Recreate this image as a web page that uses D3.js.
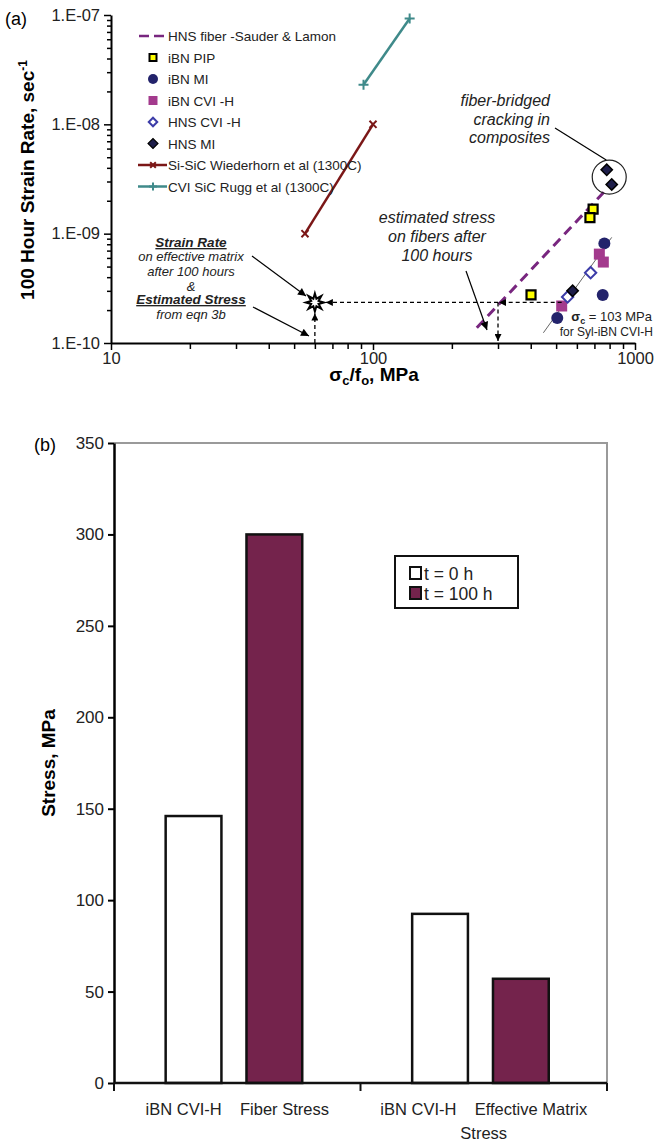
<!DOCTYPE html>
<html><head><meta charset="utf-8">
<script src="https://cdn.jsdelivr.net/npm/d3@7"></script>
<style>
body{margin:0;background:#fff;}
svg{display:block;font-family:Arial,"Liberation Sans",sans-serif;}
</style></head><body>
<svg id="fig" width="671" height="1144"></svg>
<script>
// ---------- Panel (a): 100 h strain rate vs. sigma_c / f_o ----------
const hnsFiber        = [[249, 1.38e-10], [760, 2.39e-9]];
const ibnPip          = [[401, 2.75e-10], [692, 1.68e-9], [673, 1.40e-9]];
const ibnMi           = [[764, 8.15e-10], [753, 2.75e-10], [505, 1.69e-10]];
const ibnCviH         = [[731, 6.5e-10], [757, 5.5e-10], [525, 2.18e-10]];
const hnsCviH         = [[677, 4.4e-10], [553, 2.64e-10]];
const hnsMi           = [[578, 3.0e-10], [780, 3.84e-9], [815, 2.82e-9]];
const siSicWiederhorn = [[55, 1e-9], [100, 1e-8]];
const cviSicRugg      = [[92, 2.3e-8], [138, 9.3e-8]];
const sylIbnTrend     = [[447, 1.24e-10], [815, 9.25e-10]];
const matrixPoint     = [60, 2.35e-10];   // effective matrix after 100 h
const fiberPoint      = [300, 2.35e-10];  // estimated fiber stress after 100 h
const measuredStress  = 525;              // sigma_c/f_o of Syl-iBN CVI-H
const xMajorA = [10, 100, 1000];
const yMajorA = [1e-10, 1e-9, 1e-8, 1e-7];
const legendA = ["HNS fiber -Sauder & Lamon", "iBN PIP", "iBN MI", "iBN CVI -H",
                 "HNS CVI -H", "HNS MI", "Si-SiC Wiederhorn et al (1300C)", "CVI SiC Rugg et al (1300C)"];

// ---------- Panel (b): stresses at t = 0 h and t = 100 h ----------
const categories    = ["iBN CVI-H Fiber Stress", "iBN CVI-H Effective Matrix Stress"];
const categoryLines = [["iBN CVI-H\u00a0\u00a0\u00a0\u00a0Fiber Stress"], ["iBN CVI-H\u00a0\u00a0\u00a0\u00a0Effective Matrix", "Stress"]];
const seriesNames   = ["t = 0 h", "t = 100 h"];
const stressT0      = [146, 92.5];
const stressT100    = [300, 57];
const yTicksB       = [0, 50, 100, 150, 200, 250, 300, 350];

const C = {
  fiber: "#78267f", pip: "#ffff00", mi: "#23236b", cvi: "#a33a8d",
  hnsCvi: "#3c3ca8", hnsMi: "#1e1e4a", wied: "#7b1717", rugg: "#3f8a8a", bar: "#74234c"
};

const svg = d3.select("#fig");
svg.append("rect").attr("width", 671).attr("height", 1144).attr("fill", "#fff");
const defs = svg.append("defs");
function addArrow(id, w, h) {
  defs.append("marker").attr("id", id).attr("viewBox", "0 0 10 10")
    .attr("refX", 10).attr("refY", 5).attr("markerWidth", w).attr("markerHeight", h)
    .attr("markerUnits", "userSpaceOnUse").attr("orient", "auto")
    .append("path").attr("d", "M0,0L10,5L0,10Z").attr("fill", "#000");
}
addArrow("arrowSolid", 10, 8);
addArrow("arrowDash", 8, 7);

// ================= Panel (a) =================
const x = d3.scaleLog().domain([10, 1000]).range([111, 635]);
const y = d3.scaleLog().domain([1e-10, 1e-7]).range([343, 15]);
const ga = svg.append("g");
const isMajor = v => Math.abs(Math.log10(v) - Math.round(Math.log10(v))) < 1e-6;
const fmtE = d => "1.E-" + String(-Math.round(Math.log10(d))).padStart(2, "0");

// axes: minor ticks first, then majors with labels
ga.append("g").attr("transform", "translate(111,0)")
  .call(d3.axisLeft(y).tickValues(y.ticks().filter(v => !isMajor(v))).tickSize(4).tickSizeOuter(0).tickFormat(""))
  .call(g => g.select(".domain").remove());
ga.append("g").attr("transform", "translate(0,343)")
  .call(d3.axisBottom(x).tickValues(x.ticks().filter(v => !isMajor(v))).tickSize(6).tickSizeOuter(0).tickFormat(""))
  .call(g => g.select(".domain").remove());
const yAxA = ga.append("g").attr("transform", "translate(111,0)")
  .call(d3.axisLeft(y).tickValues(yMajorA).tickSize(7).tickSizeOuter(0).tickPadding(4).tickFormat(fmtE));
const xAxA = ga.append("g").attr("transform", "translate(0,343)")
  .call(d3.axisBottom(x).tickValues(xMajorA).tickSize(7).tickSizeOuter(0).tickPadding(2).tickFormat(d3.format("d")));
[yAxA, xAxA].forEach(g => {
  g.select(".domain").attr("stroke-width", 2);
  g.selectAll("text").attr("font-size", 16.5).attr("fill", "#222").attr("font-family", "Arial, Liberation Sans, sans-serif");
});
ga.selectAll(".tick line").attr("stroke-width", 1.5);

// axis titles
ga.append("text").attr("x", 5).attr("y", 25).attr("font-size", 18).text("(a)");
const yTitleA = ga.append("text").attr("transform", "translate(34,180) rotate(-90)")
  .attr("text-anchor", "middle").attr("font-size", 19).attr("font-weight", "bold");
yTitleA.append("tspan").text("100 Hour Strain Rate, sec");
yTitleA.append("tspan").attr("dy", -7).attr("font-size", 12).text("-1");
const xTitleA = ga.append("text").attr("x", 374).attr("y", 381)
  .attr("text-anchor", "middle").attr("font-size", 19).attr("font-weight", "bold");
xTitleA.append("tspan").text("σ");
xTitleA.append("tspan").attr("dy", 4).attr("font-size", 13).text("c");
xTitleA.append("tspan").attr("dy", -4).text("/f");
xTitleA.append("tspan").attr("dy", 4).attr("font-size", 13).text("o");
xTitleA.append("tspan").attr("dy", -4).text(", MPa");

const line = d3.line().x(d => x(d[0])).y(d => y(d[1]));

// reference lines
ga.append("path").attr("d", line(sylIbnTrend)).attr("stroke", "#666").attr("stroke-width", 1).attr("fill", "none");
ga.append("path").attr("d", line(hnsFiber)).attr("stroke", C.fiber).attr("stroke-width", 3)
  .attr("stroke-dasharray", "10,6").attr("fill", "none");
ga.append("path").attr("d", line(siSicWiederhorn)).attr("stroke", C.wied).attr("stroke-width", 2.5).attr("fill", "none");
ga.append("path").attr("d", line(cviSicRugg)).attr("stroke", C.rugg).attr("stroke-width", 2.5).attr("fill", "none");

// marker painters
function cross(g, cx, cy, r, col, rot) {
  g.append("path").attr("d", `M${-r},0L${r},0M0,${-r}L0,${r}`)
    .attr("transform", `translate(${cx},${cy}) rotate(${rot})`)
    .attr("stroke", col).attr("stroke-width", 2).attr("fill", "none");
}
const sq = s => d3.symbol(d3.symbolSquare, s * s)();
function drawSquare(g, cx, cy, s, fill, stroke, sw, rot) {
  g.append("path").attr("d", sq(s)).attr("transform", `translate(${cx},${cy}) rotate(${rot || 0})`)
    .attr("fill", fill).attr("stroke", stroke).attr("stroke-width", sw);
}
function drawCircle(g, cx, cy, r, fill) {
  g.append("circle").attr("cx", cx).attr("cy", cy).attr("r", r).attr("fill", fill);
}

siSicWiederhorn.forEach(d => cross(ga, x(d[0]), y(d[1]), 5, C.wied, 45));
cviSicRugg.forEach(d => cross(ga, x(d[0]), y(d[1]), 5, C.rugg, 0));
ibnMi.forEach(d => drawCircle(ga, x(d[0]), y(d[1]), 6, C.mi));
ibnCviH.forEach(d => drawSquare(ga, x(d[0]), y(d[1]), 11, C.cvi, "none", 0));
hnsCviH.forEach(d => drawSquare(ga, x(d[0]), y(d[1]), 8, "#fff", C.hnsCvi, 2, 45));
hnsMi.forEach(d => drawSquare(ga, x(d[0]), y(d[1]), 8, C.hnsMi, "#000", 1.5, 45));
ibnPip.forEach(d => drawSquare(ga, x(d[0]), y(d[1]), 9, C.pip, "#000", 2.2));

// dashed construction lines
const dash = "4,3";
const yStar = y(matrixPoint[1]);
ga.append("line").attr("x1", x(measuredStress)).attr("y1", yStar).attr("x2", x(fiberPoint[0]) + 1).attr("y2", yStar)
  .attr("stroke", "#000").attr("stroke-width", 1.3).attr("stroke-dasharray", dash).attr("marker-end", "url(#arrowDash)");
ga.append("line").attr("x1", x(fiberPoint[0])).attr("y1", yStar).attr("x2", x(matrixPoint[0]) + 11).attr("y2", yStar)
  .attr("stroke", "#000").attr("stroke-width", 1.3).attr("stroke-dasharray", dash).attr("marker-end", "url(#arrowDash)");
ga.append("line").attr("x1", x(fiberPoint[0])).attr("y1", yStar).attr("x2", x(fiberPoint[0])).attr("y2", y(1e-10) - 2)
  .attr("stroke", "#000").attr("stroke-width", 1.3).attr("stroke-dasharray", dash).attr("marker-end", "url(#arrowDash)");
ga.append("line").attr("x1", x(matrixPoint[0])).attr("y1", y(1e-10)).attr("x2", x(matrixPoint[0])).attr("y2", yStar + 11)
  .attr("stroke", "#000").attr("stroke-width", 1.3).attr("stroke-dasharray", dash).attr("marker-end", "url(#arrowDash)");

// effective-matrix point: open eight-point star
const starPts = d3.range(16).map(i => [i * Math.PI / 8, i % 2 ? 4 : 9]);
ga.append("path").attr("d", d3.lineRadial().curve(d3.curveLinearClosed)(starPts))
  .attr("transform", `translate(${x(matrixPoint[0])},${yStar})`)
  .attr("fill", "#fff").attr("stroke", "#000").attr("stroke-width", 2);

// circled fiber-bridged points
const cx0 = (x(hnsMi[1][0]) + x(hnsMi[2][0])) / 2, cy0 = (y(hnsMi[1][1]) + y(hnsMi[2][1])) / 2;
ga.append("circle").attr("cx", cx0).attr("cy", cy0).attr("r", 17).attr("fill", "none").attr("stroke", "#222").attr("stroke-width", 1.2);
ga.append("line").attr("x1", 555).attr("y1", 128).attr("x2", cx0 - 3).attr("y2", cy0 - 17)
  .attr("stroke", "#000").attr("stroke-width", 1.2);

// annotations
function multi(g, lines, xx, y0, lh, anchor, size, style) {
  const t = g.append("text").attr("text-anchor", anchor).attr("font-size", size).attr("font-style", style || "italic").attr("fill", "#222");
  lines.forEach((s, i) => t.append("tspan").attr("x", xx).attr("y", y0 + i * lh).text(s));
  return t;
}
multi(ga, ["fiber-bridged", "cracking in", "composites"], 550, 106, 18.5, "end", 16);
multi(ga, ["estimated stress", "on fibers after", "100 hours"], 437, 223, 19, "middle", 16);
ga.append("line").attr("x1", 466).attr("y1", 271).attr("x2", 487).attr("y2", 330)
  .attr("stroke", "#000").attr("stroke-width", 1.2).attr("marker-end", "url(#arrowSolid)");

const sig = ga.append("text").attr("x", 652).attr("y", 321).attr("text-anchor", "end").attr("font-size", 13).attr("fill", "#222");
sig.append("tspan").attr("font-weight", "bold").text("σ");
sig.append("tspan").attr("font-weight", "bold").attr("dy", 3).attr("font-size", 9).text("c");
sig.append("tspan").attr("dy", -3).text(" = 103 MPa");
ga.append("text").attr("x", 653).attr("y", 336).attr("text-anchor", "end").attr("font-size", 12).attr("fill", "#222").text("for Syl-iBN CVI-H");

const ax = 191;
ga.append("text").attr("x", ax).attr("y", 247).attr("text-anchor", "middle").attr("font-size", 13.5)
  .attr("font-weight", "bold").attr("font-style", "italic").attr("text-decoration", "underline").attr("fill", "#222").text("Strain Rate");
multi(ga, ["on effective matrix", "after 100 hours", "&"], ax, 261, 15, "middle", 13);
ga.append("text").attr("x", ax).attr("y", 304).attr("text-anchor", "middle").attr("font-size", 13.5)
  .attr("font-weight", "bold").attr("font-style", "italic").attr("text-decoration", "underline").attr("fill", "#222").text("Estimated Stress");
multi(ga, ["from eqn 3b"], ax, 319, 15, "middle", 13);
ga.append("line").attr("x1", 252).attr("y1", 256).attr("x2", 306).attr("y2", 296)
  .attr("stroke", "#000").attr("stroke-width", 1.2).attr("marker-end", "url(#arrowSolid)");
ga.append("line").attr("x1", 253).attr("y1", 307).attr("x2", 309).attr("y2", 336)
  .attr("stroke", "#000").attr("stroke-width", 1.2).attr("marker-end", "url(#arrowSolid)");

// legend (a)
const lg = ga.append("g");
legendA.forEach((name, i) => {
  const cy = 36 + i * 21.5, mx = 153;
  if (i === 0) lg.append("line").attr("x1", 139).attr("x2", 167).attr("y1", cy).attr("y2", cy)
    .attr("stroke", C.fiber).attr("stroke-width", 2.5).attr("stroke-dasharray", "10,5");
  if (i === 1) drawSquare(lg, mx, cy, 7, C.pip, "#000", 2);
  if (i === 2) drawCircle(lg, mx, cy, 5, C.mi);
  if (i === 3) drawSquare(lg, mx, cy, 9, C.cvi, "none", 0);
  if (i === 4) drawSquare(lg, mx, cy, 6, "#fff", C.hnsCvi, 2, 45);
  if (i === 5) drawSquare(lg, mx, cy, 7, C.hnsMi, "#000", 1.2, 45);
  if (i === 6) { lg.append("line").attr("x1", 138).attr("x2", 167).attr("y1", cy).attr("y2", cy).attr("stroke", C.wied).attr("stroke-width", 2.5); cross(lg, mx, cy, 4, C.wied, 45); }
  if (i === 7) { lg.append("line").attr("x1", 138).attr("x2", 167).attr("y1", cy).attr("y2", cy).attr("stroke", C.rugg).attr("stroke-width", 2.5); cross(lg, mx, cy, 4, C.rugg, 0); }
  lg.append("text").attr("x", 168).attr("y", cy + 5).attr("font-size", 13.5).attr("fill", "#222").text(name);
});

// ================= Panel (b) =================
const gb = svg.append("g");
const yb = d3.scaleLinear().domain([0, 350]).range([1083, 443]);
const xb = d3.scaleBand().domain(categories).range([114, 607]);
const xs = d3.scaleBand().domain(seriesNames).range([0, xb.bandwidth()])
  .paddingInner(0.31).paddingOuter(0.68).align(0.47);
const barData = categories.flatMap((c, i) => [
  { c, s: seriesNames[0], v: stressT0[i] },
  { c, s: seriesNames[1], v: stressT100[i] }
]);

// plot-area frame (top and right)
gb.append("path").attr("d", `M114,${yb(350)}H607V${yb(0)}`).attr("fill", "none").attr("stroke", "#9a9a9a").attr("stroke-width", 2);

gb.selectAll("rect.bar").data(barData).join("rect").attr("class", "bar")
  .attr("x", d => xb(d.c) + xs(d.s)).attr("width", xs.bandwidth())
  .attr("y", d => yb(d.v)).attr("height", d => yb(0) - yb(d.v))
  .attr("fill", d => d.s === seriesNames[0] ? "#fff" : C.bar)
  .attr("stroke", "#111").attr("stroke-width", 2.5);

const yAxB = gb.append("g").attr("transform", "translate(114,0)")
  .call(d3.axisLeft(yb).tickValues(yTicksB).tickSize(6).tickSizeOuter(0).tickPadding(4));
yAxB.select(".domain").attr("stroke-width", 2.5);
yAxB.selectAll(".tick line").attr("stroke-width", 2);
yAxB.selectAll("text").attr("font-size", 17).attr("fill", "#222").attr("font-family", "Arial, Liberation Sans, sans-serif");

// category axis with boundary ticks
const xAxB = gb.append("g").attr("transform", `translate(0,${yb(0)})`);
xAxB.append("line").attr("x1", 114).attr("x2", 607).attr("stroke", "#111").attr("stroke-width", 2.5);
const bounds = [xb.range()[0], ...categories.map(c => xb(c) + xb.bandwidth())];
xAxB.selectAll("line.tk").data(bounds).join("line").attr("class", "tk")
  .attr("x1", d => d).attr("x2", d => d).attr("y1", 0).attr("y2", 8).attr("stroke", "#111").attr("stroke-width", 2);
categories.forEach((c, i) => {
  const t = xAxB.append("text").attr("text-anchor", "middle").attr("font-size", 16.5).attr("fill", "#222");
  categoryLines[i].forEach((s, j) => t.append("tspan").attr("x", xb(c) + xb.bandwidth() / 2).attr("y", 32 + j * 24).text(s));
});

gb.append("text").attr("x", 34).attr("y", 451).attr("font-size", 18).text("(b)");
gb.append("text").attr("transform", `translate(55,${(yb(0) + yb(350)) / 2}) rotate(-90)`)
  .attr("text-anchor", "middle").attr("font-size", 19).attr("font-weight", "bold").text("Stress, MPa");

// legend (b)
const lb = gb.append("g");
lb.append("rect").attr("x", 395).attr("y", 556).attr("width", 123).attr("height", 52)
  .attr("fill", "#fff").attr("stroke", "#111").attr("stroke-width", 2);
seriesNames.forEach((s, i) => {
  const cy = 573 + i * 20;
  lb.append("rect").attr("x", 410).attr("y", cy - 6).attr("width", 11).attr("height", 12)
    .attr("fill", i ? C.bar : "#fff").attr("stroke", "#111").attr("stroke-width", 2);
  lb.append("text").attr("x", 424).attr("y", cy + 6.5).attr("font-size", 17.5).attr("fill", "#222").text(s);
});
</script>
</body></html>
